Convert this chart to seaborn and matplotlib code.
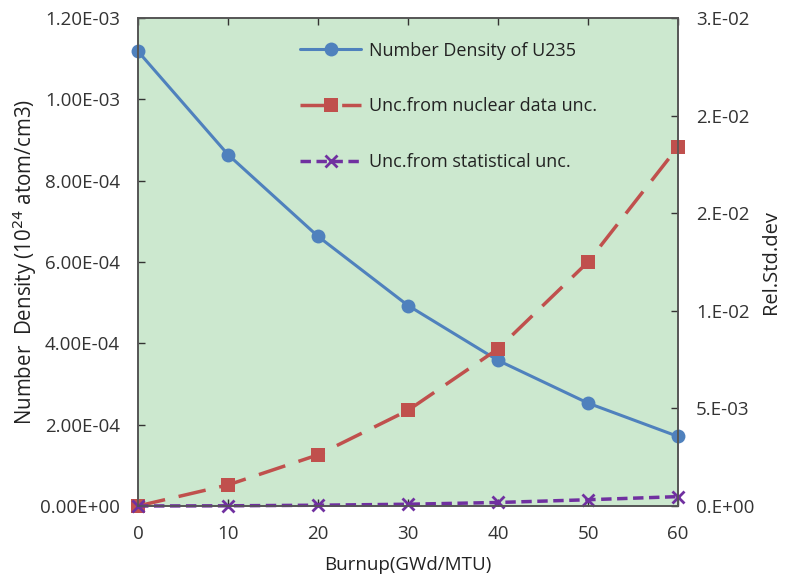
import matplotlib
matplotlib.use("Agg")
import matplotlib.pyplot as plt
import seaborn as sns
import pandas as pd
from matplotlib.ticker import FixedLocator, FixedFormatter, FormatStrFormatter

burnup = [0, 10, 20, 30, 40, 50, 60]
density_u235 = [1.118e-3, 8.64e-4, 6.63e-4, 4.93e-4, 3.58e-4, 2.53e-4, 1.71e-4]
unc_nuclear = [0.0, 0.00108, 0.00262, 0.00490, 0.00805, 0.01250, 0.01840]
unc_stat = [0.0, 0.00001, 0.00004, 0.00009, 0.00018, 0.00032, 0.00048]

left_ticks = [0, 2e-4, 4e-4, 6e-4, 8e-4, 1e-3, 1.2e-3]
right_ticks = [0, 0.005, 0.010, 0.015, 0.020, 0.025]
right_labels = ["0.E+00", "5.E-03", "1.E-02", "2.E-02", "2.E-02", "3.E-02"]
x_ticks = [0, 10, 20, 30, 40, 50, 60]

sns.set_theme(style="white")
plt.rcParams['font.family'] = ['Open Sans', 'DejaVu Sans']

df = pd.DataFrame({"burnup": burnup, "dens": density_u235,
                   "nuc": unc_nuclear, "stat": unc_stat})

fig = plt.figure(figsize=(7.86, 5.80), dpi=100)
ax = fig.add_axes([0.1756, 0.1276, 0.687, 0.8414])
ax.set_facecolor("#CCE8CF")
ax2 = ax.twinx()

blue = "#4F81BD"
red = "#C0504D"
purple = "#7030A0"

sns.lineplot(data=df, x="burnup", y="dens", ax=ax, color=blue, lw=2.2,
             marker="o", markersize=10, markeredgewidth=0, label="Number Density of U235",
             legend=False)
sns.lineplot(data=df, x="burnup", y="nuc", ax=ax2, color=red, lw=2.5,
             marker="s", markersize=10, markeredgewidth=0, dashes=False,
             label="Unc.from nuclear data unc.", legend=False)
sns.lineplot(data=df, x="burnup", y="stat", ax=ax2, color=purple, lw=2.5,
             marker="x", markersize=9, markeredgewidth=2, markeredgecolor=purple,
             label="Unc.from statistical unc.", legend=False)
ax2.lines[0].set_dashes([8, 4])
ax2.lines[1].set_dashes([3, 1.6])
ax2.lines[1].set_markeredgecolor(purple)

ax.set_xlim(0, 60)
ax.set_ylim(0, 1.2e-3)
ax2.set_ylim(0, 0.025)
for a in (ax, ax2):
    for l in a.lines:
        l.set_clip_on(False)

ax.xaxis.set_major_locator(FixedLocator(x_ticks))
ax.yaxis.set_major_locator(FixedLocator(left_ticks))
ax.yaxis.set_major_formatter(FormatStrFormatter('%.2E'))
ax2.yaxis.set_major_locator(FixedLocator(right_ticks))
ax2.yaxis.set_major_formatter(FixedFormatter(right_labels))

ax.tick_params(axis='x', direction='in', top=True, bottom=True, length=5, width=1,
               color='#333333', labelsize=13.5, pad=14, labelcolor='#333333')
ax.tick_params(axis='y', direction='in', left=True, length=5, width=1,
               color='#333333', labelsize=13.5, pad=13, labelcolor='#333333')
ax2.tick_params(axis='y', direction='in', right=True, length=5, width=1,
                color='#333333', labelsize=13.5, pad=13, labelcolor='#333333')

for a in (ax, ax2):
    for s in a.spines.values():
        s.set_color('#555555')
        s.set_linewidth(1.2)

ax.set_xlabel("Burnup(GWd/MTU)", fontsize=13.5, color='#222222', labelpad=9)
ax.set_ylabel("Number  Density (10$^{24}$ atom/cm3)", fontsize=14.8, color='#222222', labelpad=1)
ax2.set_ylabel("Rel.Std.dev", fontsize=14.5, color='#222222', labelpad=5)

handles = ax.get_lines()[:1] + ax2.get_lines()[:2]
labels = [h.get_label() for h in handles]
leg = ax.legend(handles, labels, loc='upper left', bbox_to_anchor=(0.27, 0.985),
                frameon=False, fontsize=13, labelspacing=2.1, handlelength=3.4,
                handletextpad=0.4)
for t in leg.get_texts():
    t.set_color('#222222')

fig.savefig("out.png", dpi=100)
